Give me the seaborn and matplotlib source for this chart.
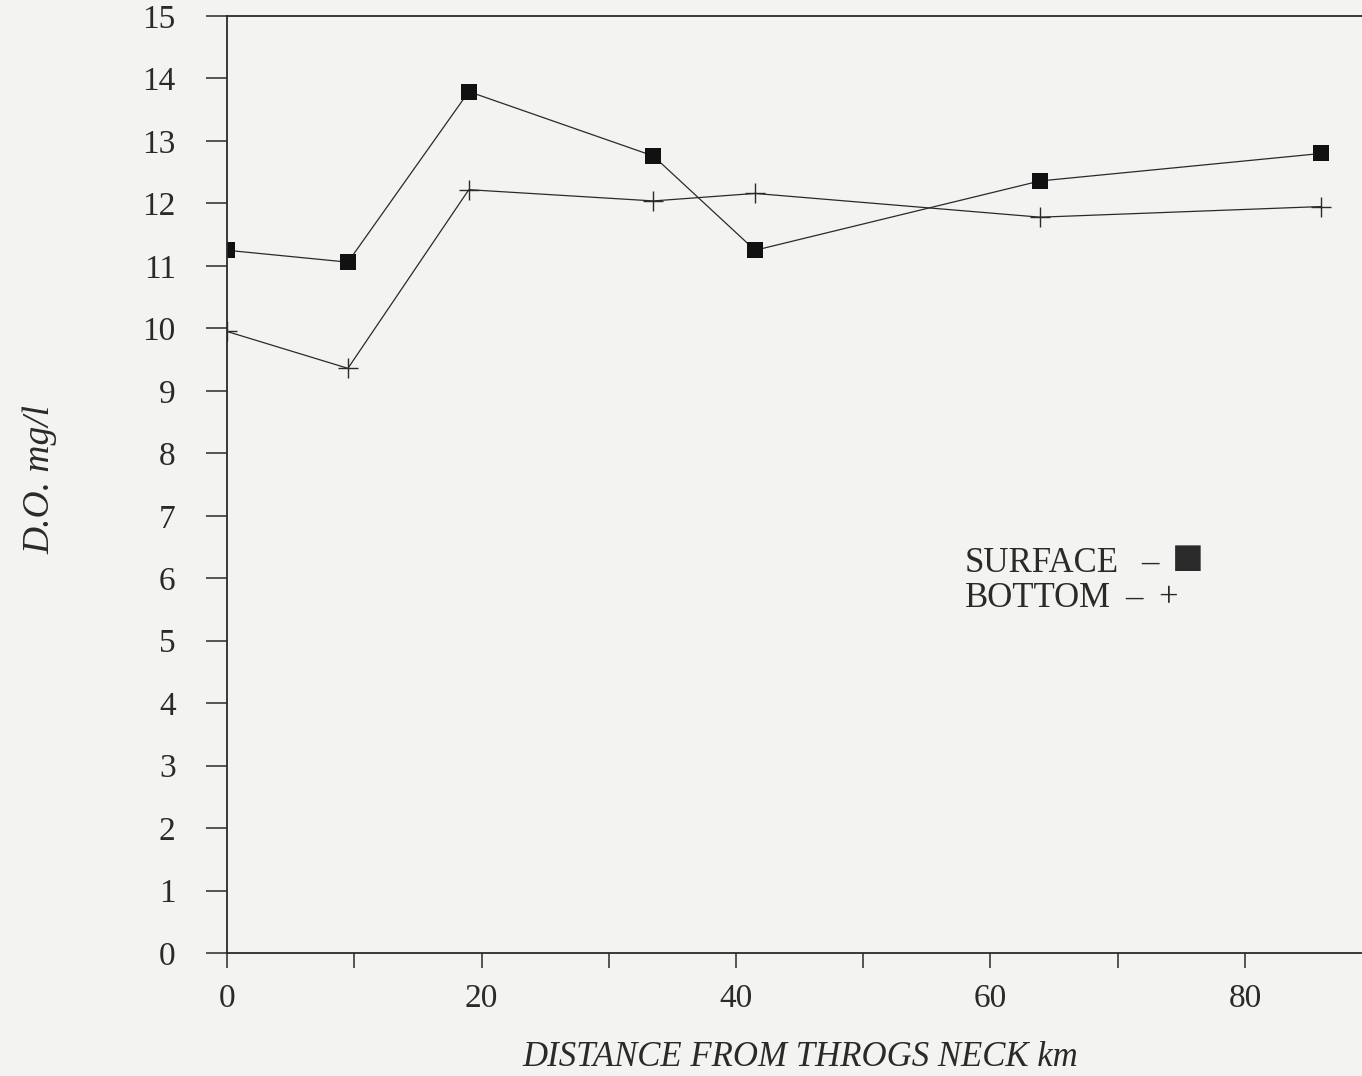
"""Dissolved oxygen along the East River / Sound transect, surface vs bottom."""

import matplotlib
matplotlib.use("Agg")
import matplotlib.pyplot as plt
import pandas as pd
import seaborn as sns

# distance from Throgs Neck (km) and D.O. (mg/l)
distance_km = [0.0, 9.5, 19.0, 33.5, 41.5, 63.9, 86.0]
surface_do = [11.25, 11.06, 13.79, 12.76, 11.25, 12.36, 12.80]
bottom_do = [9.95, 9.36, 12.22, 12.04, 12.16, 11.78, 11.95]

x_ticks = [0, 10, 20, 30, 40, 50, 60, 70, 80]
x_labels = ["0", "", "20", "", "40", "", "60", "", "80"]
y_ticks = list(range(0, 16))

PAPER = "#f3f3f1"
INK = "#2a2a2a"
SERIF = ["Liberation Serif", "DejaVu Serif", "DejaVu Sans"]

sns.set_style("ticks")
plt.rcParams["font.family"] = SERIF

surface = pd.DataFrame({"km": distance_km, "do": surface_do})
bottom = pd.DataFrame({"km": distance_km, "do": bottom_do})

fig = plt.figure(figsize=(13.62, 10.76), dpi=100, facecolor=PAPER)
ax = fig.add_axes([0.1667, 0.1143, 0.8333, 0.8708])
ax.set_facecolor(PAPER)

sns.lineplot(data=surface, x="km", y="do", ax=ax, color=INK, lw=0.9,
             marker="s", markersize=11, markeredgewidth=0,
             markerfacecolor="#111111")
sns.lineplot(data=bottom, x="km", y="do", ax=ax, color=INK, lw=0.9,
             marker="+", markersize=14, markeredgewidth=1.0,
             markeredgecolor=INK)

ax.set_xlim(0, 89.2)
ax.set_ylim(0, 15)
ax.set_xticks(x_ticks)
ax.set_xticklabels(x_labels)
ax.set_yticks(y_ticks)

for side in ["left", "bottom", "top"]:
    ax.spines[side].set_visible(True)
    ax.spines[side].set_color(INK)
    ax.spines[side].set_linewidth(1.3)
ax.spines["right"].set_visible(False)

ax.tick_params(axis="y", direction="out", length=15, width=1.1, pad=22,
               labelsize=24, colors=INK)
ax.tick_params(axis="x", direction="out", length=11, width=1.1, pad=11,
               labelsize=24, colors=INK)

ax.set_xlabel("DISTANCE FROM THROGS NECK km", fontsize=25, style="italic",
              color=INK, va="center")
ax.xaxis.set_label_coords(0.505, -0.111)
ax.set_ylabel("D.O. mg/l", fontsize=27, style="italic", color=INK,
              va="center")
ax.yaxis.set_label_coords(-0.165, 0.505)

# legend is plain text on the original plot
def fig_xy(px, py):
    return px / 1362, 1 - py / 1076

legend_bits = [
    (965, 572, "SURFACE", 25), (1141, 572, "\u2013", 25),
    (1172, 574, "\u25a0", 38),
    (965, 607, "BOTTOM", 25), (1125, 607, "\u2013", 25),
    (1158, 607, "+", 25),
]
for px, py, txt, size in legend_bits:
    fx, fy = fig_xy(px, py)
    fig.text(fx, fy, txt, fontsize=size, color=INK, va="baseline",
             family=SERIF)

fig.savefig("out.png", dpi=100, facecolor=PAPER)
plt.close(fig)
